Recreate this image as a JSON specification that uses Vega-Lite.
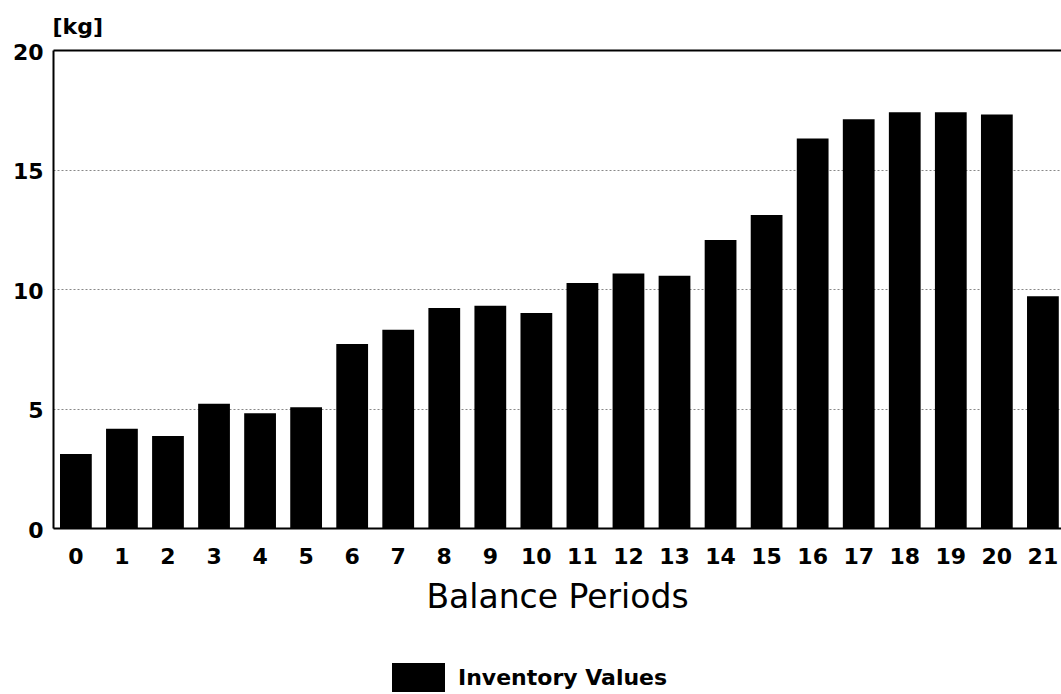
{
  "$schema": "https://vega.github.io/schema/vega-lite/v6.json",
  "autosize": {"type": "none"},
  "padding": {"left": 53, "top": 50, "right": 0, "bottom": 166},
  "width": 1008,
  "height": 478,
  "background": "white",
  "config": {"view": {"stroke": null}},
  "data": {
    "values": [
      {"period": 0, "value": 3.1, "series": "Inventory Values"},
      {"period": 1, "value": 4.15, "series": "Inventory Values"},
      {"period": 2, "value": 3.85, "series": "Inventory Values"},
      {"period": 3, "value": 5.2, "series": "Inventory Values"},
      {"period": 4, "value": 4.8, "series": "Inventory Values"},
      {"period": 5, "value": 5.05, "series": "Inventory Values"},
      {"period": 6, "value": 7.7, "series": "Inventory Values"},
      {"period": 7, "value": 8.3, "series": "Inventory Values"},
      {"period": 8, "value": 9.2, "series": "Inventory Values"},
      {"period": 9, "value": 9.3, "series": "Inventory Values"},
      {"period": 10, "value": 9.0, "series": "Inventory Values"},
      {"period": 11, "value": 10.25, "series": "Inventory Values"},
      {"period": 12, "value": 10.65, "series": "Inventory Values"},
      {"period": 13, "value": 10.55, "series": "Inventory Values"},
      {"period": 14, "value": 12.05, "series": "Inventory Values"},
      {"period": 15, "value": 13.1, "series": "Inventory Values"},
      {"period": 16, "value": 16.3, "series": "Inventory Values"},
      {"period": 17, "value": 17.1, "series": "Inventory Values"},
      {"period": 18, "value": 17.4, "series": "Inventory Values"},
      {"period": 19, "value": 17.4, "series": "Inventory Values"},
      {"period": 20, "value": 17.3, "series": "Inventory Values"},
      {"period": 21, "value": 9.7, "series": "Inventory Values"}
    ]
  },
  "mark": {"type": "bar", "strokeWidth": 0},
  "encoding": {
    "x": {
      "field": "period",
      "type": "ordinal",
      "scale": {"paddingInner": 0.31, "paddingOuter": 0.1, "align": 0.76},
      "axis": {
        "title": "Balance Periods",
        "titleFont": "DejaVu Sans",
        "titleFontSize": 33,
        "titleFontWeight": "normal",
        "titleColor": "#000000",
        "titlePadding": 14,
        "labelAngle": 0,
        "labelFont": "DejaVu Sans",
        "labelFontSize": 22,
        "labelFontWeight": "bold",
        "labelColor": "#000000",
        "labelPadding": 18,
        "ticks": false,
        "domainColor": "#000000",
        "domainWidth": 2,
        "grid": false
      }
    },
    "y": {
      "field": "value",
      "type": "quantitative",
      "scale": {"domain": [0, 20], "nice": false},
      "axis": {
        "values": [0, 5, 10, 15, 20],
        "title": "[kg]",
        "titleAngle": 0,
        "titleAlign": "left",
        "titleBaseline": "alphabetic",
        "titleX": -1,
        "titleY": -17,
        "titleFont": "DejaVu Sans",
        "titleFontSize": 22,
        "titleFontWeight": "bold",
        "titleColor": "#000000",
        "labelFont": "DejaVu Sans",
        "labelFontSize": 22,
        "labelFontWeight": "bold",
        "labelColor": "#000000",
        "labelPadding": 10,
        "labelOffset": 2,
        "ticks": false,
        "domainColor": "#000000",
        "domainWidth": 2,
        "grid": true,
        "gridColor": {"condition": {"test": "datum.value === 20", "value": "#000000"}, "value": "#888888"},
        "gridDash": {"condition": {"test": "datum.value === 20", "value": []}, "value": [2, 2]},
        "gridWidth": {"condition": {"test": "datum.value === 20", "value": 2}, "value": 1}
      }
    },
    "color": {
      "field": "series",
      "type": "nominal",
      "scale": {"range": ["#000000"]},
      "legend": {
        "title": null,
        "orient": "none",
        "legendX": 339,
        "legendY": 601,
        "padding": 0,
        "symbolType": "M-1,-0.547H1V0.547H-1Z",
        "symbolSize": 2809,
        "symbolStrokeWidth": 0,
        "symbolFillColor": "#000000",
        "labelFont": "DejaVu Sans",
        "labelFontSize": 22,
        "labelFontWeight": "bold",
        "labelColor": "#000000",
        "labelOffset": 13,
        "labelLimit": 400
      }
    }
  }
}
